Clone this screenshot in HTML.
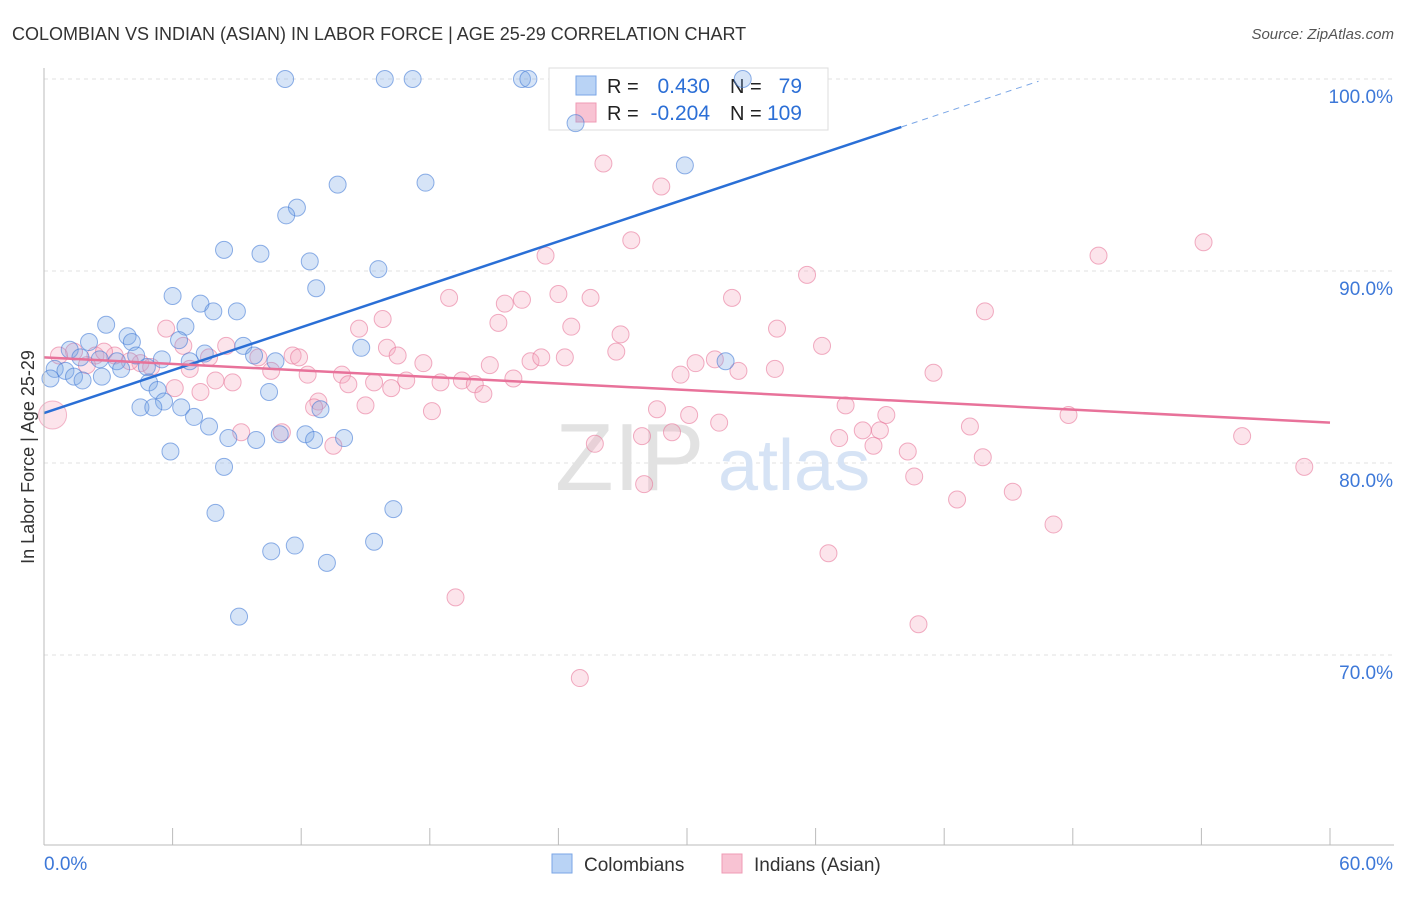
<!DOCTYPE html>
<html><head><meta charset="utf-8"><style>
body{margin:0;background:#fff;font-family:"Liberation Sans",sans-serif;}
svg text{font-family:"Liberation Sans",sans-serif;}
</style></head><body>
<svg id="chart" width="1406" height="892">
<text x="12" y="40" font-size="18" fill="#333">COLOMBIAN VS INDIAN (ASIAN) IN LABOR FORCE | AGE 25-29 CORRELATION CHART</text>
<text x="1394" y="39" font-size="15" fill="#555" font-style="italic" text-anchor="end">Source: ZipAtlas.com</text>
<g id="grid"></g>
<text x="555" y="490" font-size="96" fill="#e2e2e2" font-family="Liberation Serif">ZIP</text>
<text x="718" y="490" font-size="72" fill="#d6e3f5">atlas</text>
<g>
<rect x="549" y="68" width="279" height="62" fill="#fff" stroke="#ddd"/>
<rect x="576" y="76" width="20" height="19" fill="#b9d3f5" stroke="#7aa6e6"/>
<rect x="576" y="103" width="20" height="19" fill="#f8c3d3" stroke="#ef9bb5"/>
<text x="607" y="93" font-size="20" fill="#222">R = </text>
<text x="710" y="93" font-size="21" fill="#2c6fd6" text-anchor="end">0.430</text>
<text x="730" y="93" font-size="20" fill="#222">N = </text>
<text x="802" y="93" font-size="21" fill="#2c6fd6" text-anchor="end">79</text>
<text x="607" y="120" font-size="20" fill="#222">R = </text>
<text x="710" y="120" font-size="21" fill="#2c6fd6" text-anchor="end">-0.204</text>
<text x="730" y="120" font-size="20" fill="#222">N = </text>
<text x="802" y="120" font-size="21" fill="#2c6fd6" text-anchor="end">109</text>
</g>
<g id="pts"></g>
<g id="lines"></g>
<g id="axes"></g>
<text transform="translate(34,457) rotate(-90)" font-size="18" fill="#333" text-anchor="middle">In Labor Force | Age 25-29</text>
<g>
<rect x="552" y="854" width="20" height="19" fill="#b9d3f5" stroke="#7aa6e6"/>
<text x="584" y="871" font-size="19" fill="#333">Colombians</text>
<rect x="722" y="854" width="20" height="19" fill="#f8c3d3" stroke="#ef9bb5"/>
<text x="754" y="871" font-size="19" fill="#333">Indians (Asian)</text>
</g>
</svg>
<script>
const blueX=[11.25,15.9,17.2,22.3,22.6,32.6,24.8,29.9,13.7,17.8,11.8,11.3,8.4,10.1,12.4,15.6,12.7,6.0,7.3,7.9,9.0,2.9,6.6,3.9,2.1,6.3,4.1,1.2,9.3,14.8,7.5,5.5,6.8,9.8,10.8,31.8,2.6,1.7,3.4,4.3,0.5,1.0,3.6,4.8,2.7,1.4,1.8,0.3,4.9,5.3,10.5,5.6,4.5,5.1,6.4,12.9,7.0,7.7,8.6,9.9,11.0,12.2,12.6,14.0,5.9,8.4,16.3,8.0,15.4,11.7,10.6,13.2,9.1];
const blueY=[100,100,100,100,100,100,97.7,95.5,94.5,94.6,93.3,92.9,91.1,90.9,90.5,90.1,89.1,88.7,88.3,87.9,87.9,87.2,87.1,86.6,86.3,86.4,86.3,85.9,86.1,86.0,85.7,85.4,85.3,85.6,85.3,85.3,85.4,85.5,85.3,85.6,84.9,84.8,84.9,85.0,84.5,84.5,84.3,84.4,84.2,83.8,83.7,83.2,82.9,82.9,82.9,82.8,82.4,81.9,81.3,81.2,81.5,81.5,81.2,81.3,80.6,79.8,77.6,77.4,75.9,75.7,75.4,74.8,72.0];
const pinkX=[26.1,28.8,27.4,23.4,49.2,54.1,35.6,24.0,25.5,18.9,22.3,21.5,32.1,43.9,15.8,21.2,24.6,14.7,34.2,5.7,26.9,36.3,16.0,26.7,6.5,8.5,1.4,0.7,3.3,11.6,11.9,16.5,17.7,20.8,22.7,23.2,24.3,30.4,31.3,32.4,34.1,41.5,7.7,10.0,6.8,10.6,12.3,13.9,14.2,15.4,16.2,16.9,18.5,19.5,20.1,21.9,29.7,20.5,8.0,8.8,6.1,7.3,12.8,12.6,15.0,18.1,28.6,30.1,37.4,39.3,47.8,31.5,11.1,9.2,27.9,29.3,37.1,38.2,39.0,43.2,55.9,13.5,25.7,38.7,40.3,43.8,58.8,40.6,28.0,45.2,42.6,47.1,36.6,19.2,40.8,25.0,4.5,5.0,4.0,2.4,2.0,2.8];
const pinkY=[95.6,94.4,91.6,90.8,90.8,91.5,89.8,88.8,88.6,88.6,88.5,88.3,88.6,87.9,87.5,87.3,87.1,87.0,87.0,87.0,86.7,86.1,86.0,85.8,86.1,86.1,85.8,85.6,85.6,85.6,85.5,85.6,85.2,85.1,85.3,85.5,85.5,85.2,85.4,84.8,84.9,84.7,85.5,85.5,84.9,84.8,84.6,84.6,84.1,84.2,83.9,84.3,84.2,84.3,84.1,84.4,84.6,83.6,84.3,84.2,83.9,83.7,83.2,82.9,83.0,82.7,82.8,82.5,83.0,82.5,82.5,82.1,81.6,81.6,81.4,81.6,81.3,81.7,81.7,81.9,81.4,80.9,81.0,80.9,80.6,80.3,79.8,79.3,78.9,78.5,78.1,76.8,75.3,73.0,71.6,68.8,85.2,85.0,85.3,85.6,85.1,85.8];
const yTicks=[100,90,80,70];
const yTickLabels=["100.0%","90.0%","80.0%","70.0%"];
const xTicks=[0,6,12,18,24,30,36,42,48,54,60];
const blueTrend=[82.6,97.5];  // at x=0 and x=40
const pinkTrend=[85.5,82.1];  // at x=0 and x=60
const NS="http://www.w3.org/2000/svg";
const xs=v=>44+v*1286/60;
const ys=v=>79+(100-v)*19.2;
function mk(tag,attrs,parent){const e=document.createElementNS(NS,tag);for(const k in attrs)e.setAttribute(k,attrs[k]);parent.appendChild(e);return e;}
const grid=document.getElementById('grid'),axes=document.getElementById('axes'),pts=document.getElementById('pts'),lines=document.getElementById('lines');
yTicks.forEach((t,i)=>{
  const l=mk('line',{x1:44,x2:1394,y1:ys(t),y2:ys(t),stroke:'#e2e2e2','stroke-dasharray':'4,4'},grid);
  
  
  const tx=mk('text',{x:1393,y:ys(t)+24,'font-size':19,fill:'#3d78d8','text-anchor':'end'},axes);
  tx.textContent=yTickLabels[i];
  
  
});
const ax=mk('line',{x1:44,x2:44,y1:68,y2:845,stroke:'#bbb'},axes);


const bx=mk('line',{x1:44,x2:1394,y1:845,y2:845,stroke:'#bbb'},axes);


xTicks.forEach(t=>{
  const l=mk('line',{x1:xs(t),x2:xs(t),y1:828,y2:845,stroke:'#bbb'},axes);
  
  
});
const x0=mk('text',{x:44,y:870,'font-size':19,fill:'#3d78d8'},axes);x0.textContent='0.0%';


const x1=mk('text',{x:1393,y:870,'font-size':19,fill:'#3d78d8','text-anchor':'end'},axes);x1.textContent='60.0%';


pinkX.forEach((x,i)=>{
  const c=mk('circle',{cx:xs(x),cy:ys(pinkY[i]),r:8.5,fill:'rgba(244,165,190,0.3)',stroke:'rgba(232,120,155,0.6)','stroke-width':1},pts);
  
  
});
blueX.forEach((x,i)=>{
  const c=mk('circle',{cx:xs(x),cy:ys(blueY[i]),r:8.5,fill:'rgba(120,165,230,0.3)',stroke:'rgba(70,125,215,0.6)','stroke-width':1},pts);
  
  
});
const big=mk('circle',{cx:xs(0.4),cy:ys(82.5),r:14,fill:'rgba(244,165,190,0.3)',stroke:'rgba(232,120,155,0.5)'},pts);


const bslope=(blueTrend[1]-blueTrend[0])/40;
const bl=mk('line',{x1:xs(0),y1:ys(blueTrend[0]),x2:xs(40),y2:ys(blueTrend[1]),stroke:'#2a6fd6','stroke-width':2.5},lines);


const bd=mk('line',{x1:xs(40),y1:ys(blueTrend[1]),x2:xs(46.4),y2:ys(blueTrend[0]+bslope*46.4),stroke:'#7aa6e6','stroke-width':1,'stroke-dasharray':'6,5'},lines);


const pl=mk('line',{x1:xs(0),y1:ys(pinkTrend[0]),x2:xs(60),y2:ys(pinkTrend[1]),stroke:'#e8729a','stroke-width':2.5},lines);


</script>
</body></html>
